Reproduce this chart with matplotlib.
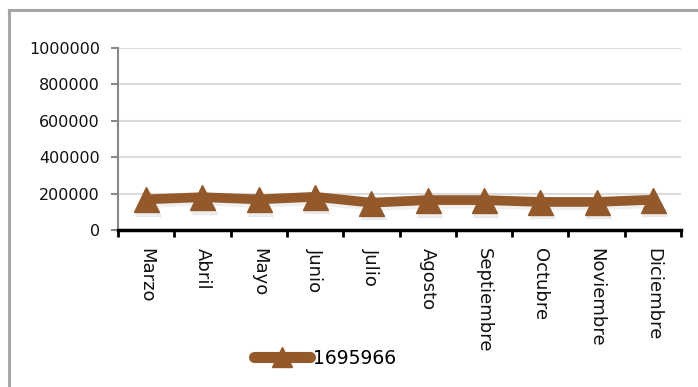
import matplotlib
matplotlib.use("Agg")
import matplotlib.pyplot as plt
import matplotlib.transforms as mtransforms
from matplotlib.lines import Line2D

# Monthly values
months = ["Marzo", "Abril", "Mayo", "Junio", "Julio", "Agosto",
          "Septiembre", "Octubre", "Noviembre", "Diciembre"]
values = [168000, 180000, 168000, 182000, 150000, 164000,
          164000, 154000, 154000, 166000]
series_name = "1695966"
yticks = [0, 200000, 400000, 600000, 800000, 1000000]

LINE_COLOR = "#94592a"

plt.rcParams["font.family"] = ["DejaVu Sans"]

fig = plt.figure(figsize=(6.98, 3.87), dpi=100)
ax = fig.add_axes([118 / 698, 1 - 230 / 387, (681 - 118) / 698, (230 - 47.7) / 387])

x = list(range(len(months)))

# soft shadow under the line
shadow = mtransforms.offset_copy(ax.transData, fig=fig, x=1, y=-2.5, units="points")
ax.plot(x, values, color="#999999", lw=7, marker="^", ms=18, alpha=0.15,
        transform=shadow, solid_capstyle="round", zorder=2)
ax.plot(x, values, color=LINE_COLOR, lw=7, marker="^", ms=18,
        solid_capstyle="round", zorder=3)

ax.set_xlim(-0.5, len(months) - 0.5)
ax.set_ylim(0, 1000000)
ax.set_yticks(yticks)
ax.set_yticklabels([str(v) for v in yticks], fontsize=11.5, color="#111111")
ax.yaxis.grid(True, color="#dcdcdc", lw=1.5)
ax.set_axisbelow(True)

# category labels at centres, ticks on boundaries
ax.set_xticks(x)
ax.set_xticklabels(months, rotation=270, fontsize=13, va="top", ha="center",
                   color="#111111")
ax.tick_params(axis="x", which="major", length=0, pad=13)
ax.set_xticks([i - 0.5 for i in range(len(months) + 1)], minor=True)
ax.tick_params(axis="x", which="minor", length=5, width=2, color="black", direction="out")
ax.tick_params(axis="y", length=5, width=1.5, color="#888888", pad=8)

for side in ["top", "right"]:
    ax.spines[side].set_visible(False)
ax.spines["left"].set_color("#888888")
ax.spines["left"].set_linewidth(1.5)
ax.spines["bottom"].set_color("black")
ax.spines["bottom"].set_linewidth(2.5)

handle = Line2D([], [], color=LINE_COLOR, lw=8, marker="^", ms=14,
                solid_capstyle="round")
fig.legend([handle], [series_name], loc="center", bbox_to_anchor=(325 / 698, 1 - 358 / 387),
           frameon=False, fontsize=13.5, handlelength=3.0, handletextpad=0.15)

# outer chart border (left and top only visible)
fig.add_artist(Line2D([9 / 698, 9 / 698], [0, 1 - 10 / 387], color="#a6a6a6", lw=2.2,
                      transform=fig.transFigure))
fig.add_artist(Line2D([9 / 698, 1], [1 - 10 / 387, 1 - 10 / 387], color="#a6a6a6", lw=2.2,
                      transform=fig.transFigure))

fig.savefig("out.png", dpi=100, facecolor="white")
